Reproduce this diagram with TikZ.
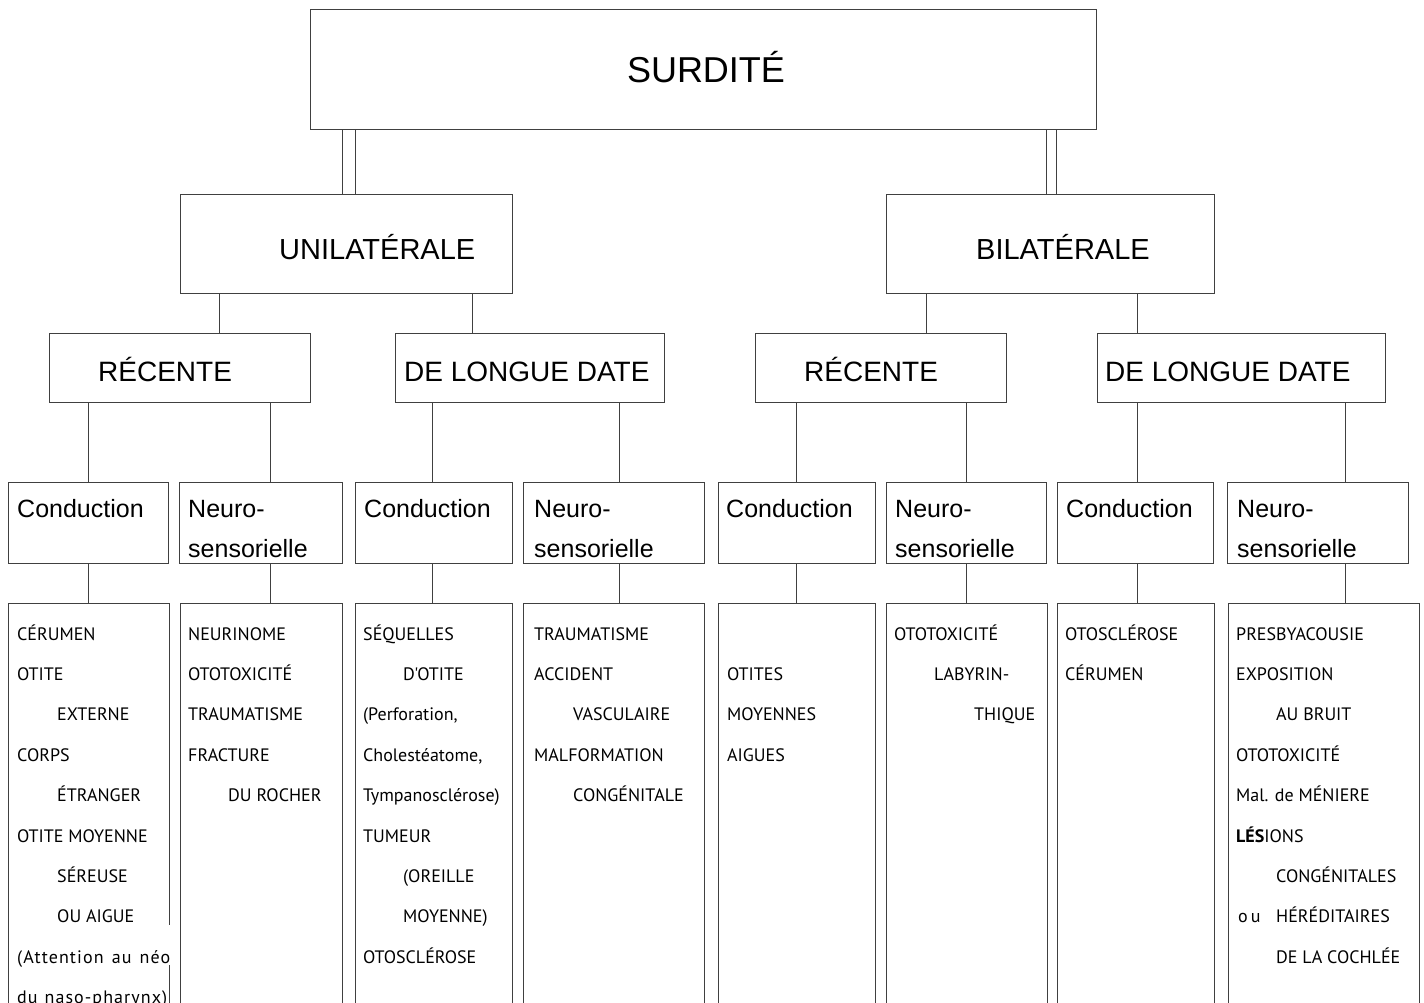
\documentclass[tikz,border=0pt]{standalone}
\usepackage{fontspec}
\setmainfont{Liberation Sans}
\newfontfamily\listfont{PT Sans}
\newfontfamily\listwide[LetterSpace=6]{PT Sans}
\newcommand\mkbox[5]{\node[box, minimum width=#4pt, minimum height=#5pt] (#1) at (#2,#3) {};}
\newcommand\mkli[4]{\node[lst] (#1) at (#2,{640+40.4*#3}) {#4};}
\begin{document}
\begin{tikzpicture}[x=1pt,y=-1pt,
  box/.style={draw=black!75,line width=1pt,inner sep=0pt,outer sep=0pt},
  lnk/.style={draw=black!75,line width=1pt},
  dbl/.style={draw=black!75,line width=1pt,double=white,double distance=#1,shorten <=0.5pt,shorten >=0.5pt},
  t36/.style={anchor=base,inner sep=0pt,font=\fontsize{36}{40}\selectfont},
  t29/.style={anchor=base west,inner sep=0pt,font=\fontsize{29}{34}\selectfont},
  t28/.style={anchor=base west,inner sep=0pt,font=\fontsize{28}{33}\selectfont},
  t25/.style={anchor=base west,inner sep=0pt,font=\fontsize{25}{30}\selectfont},
  lst/.style={anchor=base west,inner sep=0pt,font=\listfont\fontsize{18}{22}\selectfont},
  lstw/.style={anchor=base west,inner sep=0pt,font=\listwide\fontsize{18}{22}\selectfont}]
\clip (0,0) rectangle (1424,1003);
\fill[white] (0,0) rectangle (1424,1003);

% level 0-2 boxes
\mkbox{top}{703}{70}{786}{120}
\mkbox{uni}{346}{244}{332}{98}
\mkbox{bil}{1050}{244}{328}{98}
\mkbox{rec1}{179.5}{367.5}{261}{69}
\mkbox{dld1}{529.5}{367.5}{269}{69}
\mkbox{rec2}{880.5}{367.5}{251}{69}
\mkbox{dld2}{1241}{367.5}{288}{69}
% level 3
\mkbox{c1}{88.25}{522.5}{160.5}{81}
\mkbox{n1}{260.75}{522.5}{162.5}{81}
\mkbox{c2}{433.5}{522.5}{157}{81}
\mkbox{n2}{613.5}{522.5}{181}{81}
\mkbox{c3}{796.75}{522.5}{157.5}{81}
\mkbox{n3}{966.25}{522.5}{159.5}{81}
\mkbox{c4}{1135}{522.5}{156}{81}
\mkbox{n4}{1317.5}{522.5}{181}{81}
% bottom lists
\mkbox{b1}{88.5}{851.5}{161}{497}
\mkbox{b2}{261}{851.5}{162}{497}
\mkbox{b3}{434.2}{851.5}{157}{497}
\mkbox{b4}{613.85}{851.5}{180.3}{497}
\mkbox{b5}{796.5}{851.5}{157}{497}
\mkbox{b6}{966.5}{851.5}{161}{497}
\mkbox{b7}{1135.5}{851.5}{157}{497}
\mkbox{b8}{1323.5}{851.5}{191}{497}

% connector x positions
\foreach \n/\x in {L/348.5,R/1051.5,a/219,b/472,c/926,d/1137,e/88.5,f/270,g/432.5,h/619,i/796,j/966,k/1137,l/1345}
  \coordinate (v\n) at (\x,0);

\draw[dbl=12pt] (top.south -| vL) -- (uni.north -| vL);
\draw[dbl=9pt] (top.south -| vR) -- (bil.north -| vR);
\draw[lnk] (uni.south -| va) -- (rec1.north -| va);
\draw[lnk] (uni.south -| vb) -- (dld1.north -| vb);
\draw[lnk] (bil.south -| vc) -- (rec2.north -| vc);
\draw[lnk] (bil.south -| vd) -- (dld2.north -| vd);
\draw[lnk] (rec1.south -| ve) -- (c1.north -| ve);
\draw[lnk] (rec1.south -| vf) -- (n1.north -| vf);
\draw[lnk] (dld1.south -| vg) -- (c2.north -| vg);
\draw[lnk] (dld1.south -| vh) -- (n2.north -| vh);
\draw[lnk] (rec2.south -| vi) -- (c3.north -| vi);
\draw[lnk] (rec2.south -| vj) -- (n3.north -| vj);
\draw[lnk] (dld2.south -| vk) -- (c4.north -| vk);
\draw[lnk] (dld2.south -| vl) -- (n4.north -| vl);
\draw[lnk] (c1.south -| ve) -- (b1.north -| ve);
\draw[lnk] (n1.south -| vf) -- (b2.north -| vf);
\draw[lnk] (c2.south -| vg) -- (b3.north -| vg);
\draw[lnk] (n2.south -| vh) -- (b4.north -| vh);
\draw[lnk] (c3.south -| vi) -- (b5.north -| vi);
\draw[lnk] (n3.south -| vj) -- (b6.north -| vj);
\draw[lnk] (c4.south -| vk) -- (b7.north -| vk);
\draw[lnk] (n4.south -| vl) -- (b8.north -| vl);

% titles
\node[t36] (ttop) at (706,83) {SURDITÉ};
\node[t29] (tuni) at (279,259) {UNILATÉRALE};
\node[t29] (tbil) at (976,259) {BILATÉRALE};
\node[t28] (trec1) at (98,381) {RÉCENTE};
\node[t28] (tdld1) at (404,381) {DE LONGUE DATE};
\node[t28] (trec2) at (804,381) {RÉCENTE};
\node[t28] (tdld2) at (1105,381) {DE LONGUE DATE};
\node[t25] (tc1) at (17,517) {Conduction};
\node[t25] (tc2) at (364,517) {Conduction};
\node[t25] (tc3) at (726,517) {Conduction};
\node[t25] (tc4) at (1066,517) {Conduction};
\node[t25] (tn1a) at (188,517) {Neuro-};
\node[t25] (tn1b) at (188,557) {sensorielle};
\node[t25] (tn2a) at (534,517) {Neuro-};
\node[t25] (tn2b) at (534,557) {sensorielle};
\node[t25] (tn3a) at (895,517) {Neuro-};
\node[t25] (tn3b) at (895,557) {sensorielle};
\node[t25] (tn4a) at (1237,517) {Neuro-};
\node[t25] (tn4b) at (1237,557) {sensorielle};

% list 1
\mkli{l1a}{17}{0}{CÉRUMEN}
\mkli{l1b}{17}{1}{OTITE}
\mkli{l1c}{57}{2}{EXTERNE}
\mkli{l1d}{17}{3}{CORPS}
\mkli{l1e}{57}{4}{ÉTRANGER}
\mkli{l1f}{17}{5}{OTITE MOYENNE}
\mkli{l1g}{57}{6}{SÉREUSE}
\mkli{l1h}{57}{7}{OU AIGUE}
\node[lstw,fill=white,text height=38pt,text depth=2pt] (l1i) at (17,{640+40.4*8}) {\makebox[153pt][s]{(Attention au néo}};
\node[lstw] (l1j) at (17,{640+40.4*9}) {\makebox[150pt][s]{du naso-pharynx)}};
% list 2
\mkli{l2a}{188}{0}{NEURINOME}
\mkli{l2b}{188}{1}{OTOTOXICITÉ}
\mkli{l2c}{188}{2}{TRAUMATISME}
\mkli{l2d}{188}{3}{FRACTURE}
\mkli{l2e}{228}{4}{DU ROCHER}
% list 3
\mkli{l3a}{363}{0}{SÉQUELLES}
\mkli{l3b}{403}{1}{D'OTITE}
\mkli{l3c}{363}{2}{(Perforation,}
\mkli{l3d}{363}{3}{Cholestéatome,}
\mkli{l3e}{363}{4}{Tympanosclérose)}
\mkli{l3f}{363}{5}{TUMEUR}
\mkli{l3g}{403}{6}{(OREILLE}
\mkli{l3h}{403}{7}{MOYENNE)}
\mkli{l3i}{363}{8}{OTOSCLÉROSE}
% list 4
\mkli{l4a}{534}{0}{TRAUMATISME}
\mkli{l4b}{534}{1}{ACCIDENT}
\mkli{l4c}{573}{2}{VASCULAIRE}
\mkli{l4d}{534}{3}{MALFORMATION}
\mkli{l4e}{573}{4}{CONGÉNITALE}
% list 5
\mkli{l5a}{727}{1}{OTITES}
\mkli{l5b}{727}{2}{MOYENNES}
\mkli{l5c}{727}{3}{AIGUES}
% list 6
\mkli{l6a}{894}{0}{OTOTOXICITÉ}
\mkli{l6b}{934}{1}{LABYRIN-}
\mkli{l6c}{974}{2}{THIQUE}
% list 7
\mkli{l7a}{1065}{0}{OTOSCLÉROSE}
\mkli{l7b}{1065}{1}{CÉRUMEN}
% list 8
\mkli{l8a}{1236}{0}{PRESBYACOUSIE}
\mkli{l8b}{1236}{1}{EXPOSITION}
\mkli{l8c}{1276}{2}{AU BRUIT}
\mkli{l8d}{1236}{3}{OTOTOXICITÉ}
\mkli{l8e}{1236}{4}{Mal. de MÉNIERE}
\mkli{l8f}{1236}{5}{{\bfseries LÉS}IONS}
\mkli{l8g}{1276}{6}{CONGÉNITALES}
\mkli{l8h}{1238}{7}{o\,u}
\mkli{l8i}{1276}{7}{HÉRÉDITAIRES}
\mkli{l8j}{1276}{8}{DE LA COCHLÉE}
\end{tikzpicture}
\end{document}
